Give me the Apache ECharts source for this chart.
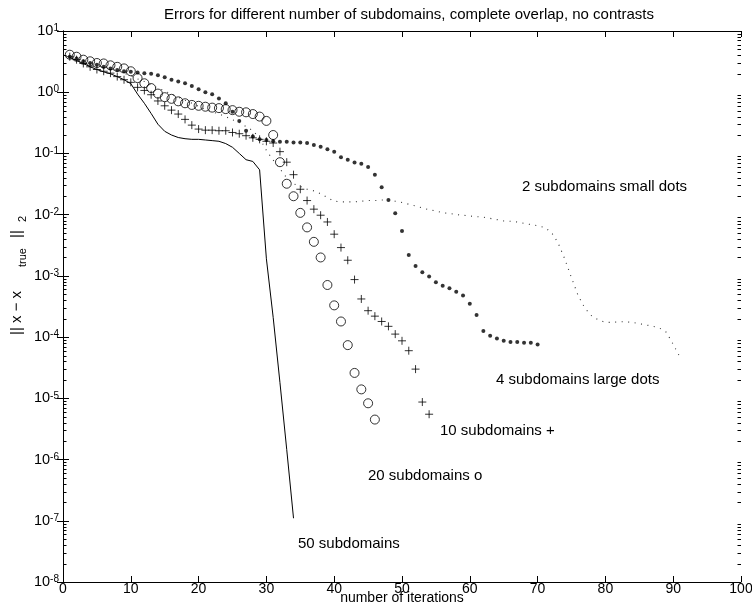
<!DOCTYPE html>
<html>
<head>
<meta charset="utf-8">
<script src="https://cdn.jsdelivr.net/npm/echarts@6/dist/echarts.min.js"></script>
<style>
  html, body { margin: 0; padding: 0; background: #fff; }
  #chart { width: 752px; height: 604px; }
</style>
</head>
<body>
<div id="chart"></div>
<script>
// Error norm per iteration, one array per number of subdomains (iteration = index + 1)
const err2 = [3.8, 3.45, 3.15, 2.95, 2.75, 2.55, 2.4, 2.25, 2.05, 1.85,
  1.65, 1.5, 1.3, 1.17, 1.05, 0.93, 0.83, 0.74, 0.66, 0.59,
  0.52, 0.48, 0.44, 0.40, 0.355, 0.32, 0.275, 0.235, 0.178, 0.112,
  0.078, 0.056, 0.040, 0.032, 0.029, 0.026, 0.0245, 0.022, 0.019, 0.0166,
  0.0162, 0.0162, 0.0162, 0.0166, 0.017, 0.017, 0.0174, 0.0174, 0.0166, 0.0158,
  0.0148, 0.0138, 0.0129, 0.012, 0.0115, 0.0107, 0.0105, 0.0100, 0.0098, 0.0095,
  0.0093, 0.0091, 0.0087, 0.0083, 0.0079, 0.0078, 0.0076, 0.0072, 0.0069, 0.0066,
  0.0062, 0.0052, 0.0035, 0.0019, 9.3e-4, 4.7e-4, 2.95e-4, 2.2e-4, 1.9e-4, 1.74e-4,
  1.74e-4, 1.78e-4, 1.78e-4, 1.74e-4, 1.66e-4, 1.58e-4, 1.5e-4, 1.4e-4, 1.2e-4, 7.6e-5,
  4.7e-5];

const err4 = [3.8, 3.55, 3.2, 3.0, 2.8, 2.6, 2.45, 2.3, 2.2, 2.15,
  2.1, 2.05, 2.0, 1.9, 1.75, 1.6, 1.5, 1.4, 1.26, 1.12,
  1.0, 0.93, 0.79, 0.66, 0.48, 0.34, 0.235, 0.19, 0.17, 0.166,
  0.158, 0.155, 0.155, 0.151, 0.151, 0.148, 0.138, 0.129, 0.117, 0.107,
  0.087, 0.079, 0.071, 0.068, 0.060, 0.045, 0.028, 0.0174, 0.0105, 0.0054,
  0.0022, 0.00145, 0.00115, 9.8e-4, 7.9e-4, 6.9e-4, 6.3e-4, 5.5e-4, 4.8e-4, 3.5e-4,
  2.3e-4, 1.26e-4, 1.05e-4, 9.5e-5, 8.7e-5, 8.3e-5, 8.3e-5, 8.1e-5, 8.1e-5, 7.6e-5];

const err10 = [3.8, 3.4, 2.95, 2.6, 2.35, 2.2, 2.05, 1.8, 1.6, 1.45,
  1.2, 1.07, 0.91, 0.72, 0.60, 0.51, 0.44, 0.36, 0.29, 0.25,
  0.24, 0.24, 0.235, 0.235, 0.22, 0.21, 0.195, 0.18, 0.17, 0.158,
  0.148, 0.107, 0.072, 0.045, 0.026, 0.017, 0.0123, 0.0098, 0.0076, 0.0048,
  0.0029, 0.0018, 8.7e-4, 4.2e-4, 2.7e-4, 2.2e-4, 1.8e-4, 1.5e-4, 1.12e-4, 8.7e-5,
  6.0e-5, 3.0e-5, 8.7e-6, 5.5e-6];

const err20 = [4.1, 3.8, 3.4, 3.2, 3.0, 2.95, 2.75, 2.6, 2.45, 2.2,
  1.7, 1.4, 1.17, 0.95, 0.83, 0.78, 0.71, 0.66, 0.62, 0.60,
  0.58, 0.56, 0.55, 0.53, 0.51, 0.48, 0.47, 0.44, 0.40, 0.34,
  0.20, 0.072, 0.032, 0.020, 0.0107, 0.0062, 0.0036, 0.0020, 7.1e-4, 3.3e-4,
  1.8e-4, 7.4e-5, 2.6e-5, 1.4e-5, 8.3e-6, 4.5e-6];

const err50 = [3.7, 3.3, 2.95, 2.6, 2.35, 2.15, 2.0, 1.8, 1.6, 1.38,
  0.93, 0.66, 0.45, 0.30, 0.23, 0.20, 0.182, 0.174, 0.17, 0.17,
  0.166, 0.162, 0.158, 0.145, 0.126, 0.100, 0.079, 0.074, 0.054, 1.9e-3,
  2.1e-4, 1.8e-5, 1.45e-6, 1.1e-7];

// Axis ticks
const xTicks = [0, 10, 20, 30, 40, 50, 60, 70, 80, 90, 100];
const yDecades = [-8, -7, -6, -5, -4, -3, -2, -1, 0, 1];
const minorMultipliers = [2, 3, 4, 5, 6, 7, 8, 9];

// Curve captions
const captions = [
  { text: '2 subdomains small dots', x: 522, y: 187 },
  { text: '4 subdomains large dots', x: 496, y: 380 },
  { text: '10 subdomains +', x: 440, y: 431 },
  { text: '20 subdomains o', x: 368, y: 476 },
  { text: '50 subdomains', x: 298, y: 544 }
];

const FONT = '"Liberation Sans", Arial, Helvetica, sans-serif';

function toPairs(arr) { return arr.map((v, i) => [i + 1, v]); }

// log-spaced minor ticks 2..9 x 10^k inside each decade
const minorTicks = [];
yDecades.slice(0, -1).forEach(k => {
  minorMultipliers.forEach(m => minorTicks.push([0, m * Math.pow(10, k)]));
});

const chart = echarts.init(document.getElementById('chart'), null, { renderer: 'canvas' });

const plusSymbol = 'path://M0,5L10,5M5,0L5,10';

const axisLineStyle = { lineStyle: { color: '#000', width: 1 } };

function textEl(str, x, y, size, align, rotation) {
  return {
    type: 'text', x: x, y: y, rotation: rotation || 0, silent: true,
    style: { text: str, font: size + 'px ' + FONT, fill: '#000', textAlign: align, textVerticalAlign: 'middle' }
  };
}

const option = {
  animation: false,
  backgroundColor: '#fff',
  title: {
    text: 'Errors for different number of subdomains, complete overlap, no contrasts',
    left: 404, top: 2, textAlign: 'center',
    textStyle: { fontFamily: FONT, fontSize: 15, fontWeight: 'normal', color: '#000' }
  },
  grid: { left: 63, right: 11, top: 31, bottom: 22, containLabel: false, outerBoundsMode: 'none' },
  xAxis: [
    {
      type: 'value', min: xTicks[0], max: xTicks[xTicks.length - 1], interval: 10,
      position: 'bottom',
      axisLine: axisLineStyle,
      axisTick: { inside: true, length: 6, lineStyle: { color: '#000' } },
      axisLabel: { margin: 0, fontFamily: FONT, fontSize: 14, color: '#000' },
      splitLine: { show: false }
    },
    {
      type: 'value', min: xTicks[0], max: xTicks[xTicks.length - 1], interval: 10,
      position: 'top',
      axisLine: axisLineStyle,
      axisTick: { inside: true, length: 6, lineStyle: { color: '#000' } },
      axisLabel: { show: false },
      splitLine: { show: false }
    }
  ],
  yAxis: [
    {
      type: 'log', logBase: 10,
      min: Math.pow(10, yDecades[0]), max: Math.pow(10, yDecades[yDecades.length - 1]),
      interval: 1,
      position: 'left',
      axisLine: axisLineStyle,
      axisTick: { inside: true, length: 6, lineStyle: { color: '#000' } },
      minorTick: { show: false },
      axisLabel: {
        margin: 4,
        formatter: function (v) {
          const e = Math.round(Math.log10(v));
          return '{b|10}{e|' + e + '}';
        },
        rich: {
          b: { fontFamily: FONT, fontSize: 14.5, color: '#000', verticalAlign: 'bottom', lineHeight: 15 },
          e: { fontFamily: FONT, fontSize: 10, color: '#000', verticalAlign: 'top', lineHeight: 10, padding: [0, 0, 10, 0] }
        }
      },
      splitLine: { show: false }
    },
    {
      type: 'log', logBase: 10,
      min: Math.pow(10, yDecades[0]), max: Math.pow(10, yDecades[yDecades.length - 1]),
      interval: 1,
      position: 'right',
      axisLine: axisLineStyle,
      axisTick: { inside: true, length: 6, lineStyle: { color: '#000' } },
      axisLabel: { show: false },
      splitLine: { show: false }
    }
  ],
  series: [
    {
      name: 'minor ticks', type: 'custom', silent: true, z: 1,
      xAxisIndex: 0, yAxisIndex: 0,
      data: minorTicks,
      encode: { x: 0, y: 1 },
      renderItem: function (params, api) {
        const v = api.value(1);
        const l = api.coord([xTicks[0], v]);
        const r = api.coord([xTicks[xTicks.length - 1], v]);
        const y = Math.round(l[1]) + 0.5;
        return {
          type: 'group',
          children: [
            { type: 'line', shape: { x1: l[0], y1: y, x2: l[0] + 3.5, y2: y }, style: { stroke: '#000', lineWidth: 1 } },
            { type: 'line', shape: { x1: r[0], y1: y, x2: r[0] - 3.5, y2: y }, style: { stroke: '#000', lineWidth: 1 } }
          ]
        };
      }
    },
    {
      name: '2 subdomains', type: 'line', data: toPairs(err2),
      showSymbol: false, symbol: 'none', silent: true,
      lineStyle: { color: '#333', width: 1.1, type: [1, 5.5] }
    },
    {
      name: '4 subdomains', type: 'scatter', data: toPairs(err4), silent: true,
      symbol: 'circle', symbolSize: 4,
      itemStyle: { color: '#000' }
    },
    {
      name: '10 subdomains', type: 'scatter', data: toPairs(err10), silent: true,
      symbol: plusSymbol, symbolSize: 8,
      itemStyle: { color: 'none', borderColor: '#000', borderWidth: 1 }
    },
    {
      name: '20 subdomains', type: 'scatter', data: toPairs(err20), silent: true,
      symbol: 'circle', symbolSize: 9,
      itemStyle: { color: 'rgba(0,0,0,0)', borderColor: '#000', borderWidth: 1 }
    },
    {
      name: '50 subdomains', type: 'line', data: toPairs(err50), silent: true,
      showSymbol: false, symbol: 'none',
      lineStyle: { color: '#000', width: 1 }
    }
  ],
  graphic: captions.map(c => textEl(c.text, c.x, c.y, 15, 'left')).concat([
    // x-axis title
    textEl('number of iterations', 402, 598.5, 14, 'center'),
    // y-axis label ||x - x_true||_2, rotated to read upwards
    textEl('|| x \u2212 x', 17, 335, 15, 'left', Math.PI / 2),
    textEl('true', 22.5, 267, 11, 'left', Math.PI / 2),
    textEl('||', 17, 238, 15, 'left', Math.PI / 2),
    textEl('2', 22.5, 222, 11, 'left', Math.PI / 2)
  ])
};

chart.setOption(option);
</script>
</body>
</html>
